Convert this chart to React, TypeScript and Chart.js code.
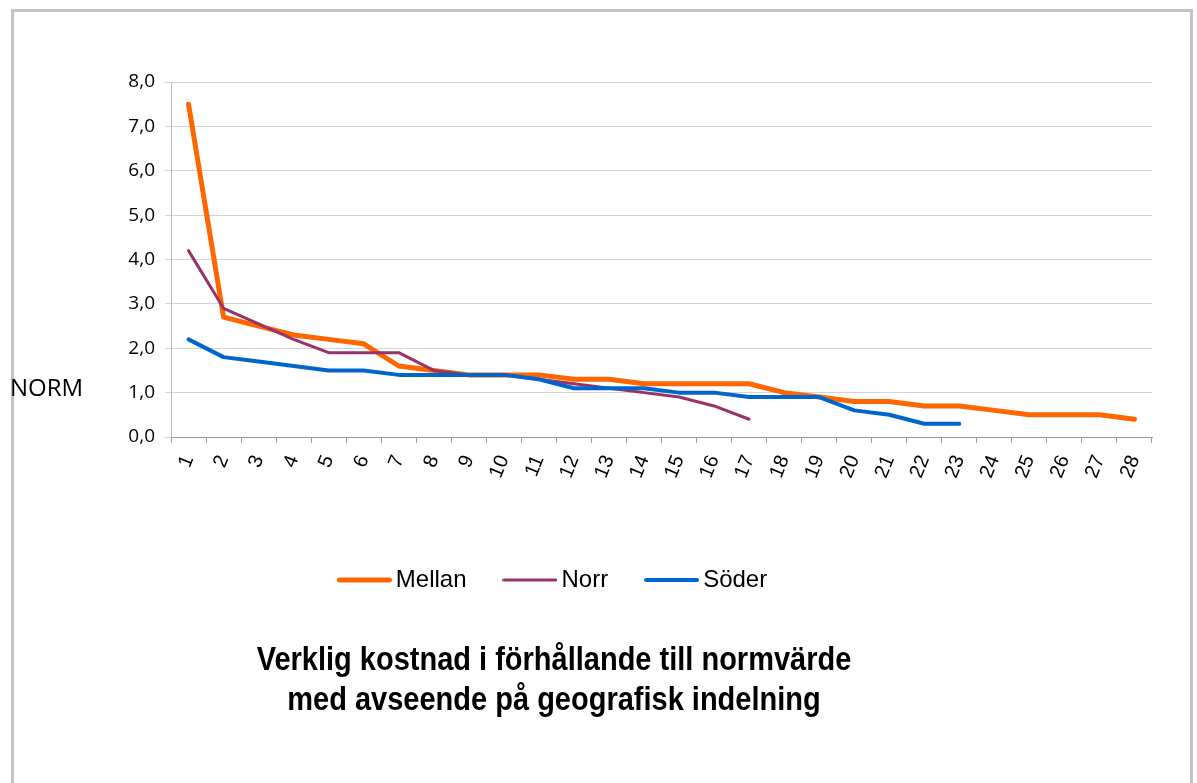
import React, { useEffect, useRef } from 'react';
import { Chart, registerables } from 'chart.js';

Chart.register(...registerables);

const categories = [
  '1', '2', '3', '4', '5', '6', '7', '8', '9', '10', '11', '12', '13', '14',
  '15', '16', '17', '18', '19', '20', '21', '22', '23', '24', '25', '26', '27', '28',
];

const mellan = [
  7.5, 2.7, 2.5, 2.3, 2.2, 2.1, 1.6, 1.5, 1.4, 1.4, 1.4, 1.3, 1.3, 1.2,
  1.2, 1.2, 1.2, 1.0, 0.9, 0.8, 0.8, 0.7, 0.7, 0.6, 0.5, 0.5, 0.5, 0.4,
];

const norr = [
  4.2, 2.9, 2.55, 2.2, 1.9, 1.9, 1.9, 1.5, 1.4, 1.4, 1.3, 1.2, 1.1, 1.0, 0.9, 0.7, 0.4,
];

const soder = [
  2.2, 1.8, 1.7, 1.6, 1.5, 1.5, 1.4, 1.4, 1.4, 1.4, 1.3, 1.1, 1.1, 1.1, 1.0, 1.0,
  0.9, 0.9, 0.9, 0.6, 0.5, 0.3, 0.3,
];

const seriesNames = ['Mellan', 'Norr', 'Söder'];
const yAxisTitle = 'NORM';
const titleLines = [
  'Verklig kostnad i förhållande till normvärde',
  'med avseende på geografisk indelning',
];

function legendLine(color: string, width: number) {
  const c = document.createElement('canvas');
  c.width = 55;
  c.height = 10;
  const g = c.getContext('2d')!;
  g.strokeStyle = color;
  g.lineWidth = width;
  g.lineCap = 'round';
  g.beginPath();
  g.moveTo(width / 2, 5);
  g.lineTo(55 - width / 2, 5);
  g.stroke();
  return c;
}

export default function App() {
  const ref = useRef<HTMLCanvasElement | null>(null);

  useEffect(() => {
    if (!ref.current) return;

    const textPlugin = {
      id: 'extraText',
      afterLayout(chart: any) {
        const lg = chart.legend;
        if (lg) {
          lg.left -= 20;
          lg.right -= 20;
        }
      },
      afterDraw(chart: any) {
        const ctx = chart.ctx;
        ctx.save();
        ctx.fillStyle = '#000';
        ctx.textBaseline = 'alphabetic';
        ctx.textAlign = 'left';
        ctx.font = '24px "Open Sans"';
        ctx.fillText(yAxisTitle, 10, 396);
        ctx.textAlign = 'center';
        ctx.font = 'bold 29px "Liberation Sans"';
        const baselines = [670, 710];
        titleLines.forEach((line, i) => {
          ctx.save();
          ctx.translate(554, baselines[i]);
          ctx.scale(1, 1.14);
          ctx.fillText(line, 0, 0);
          ctx.restore();
        });
        ctx.restore();
      },
    };

    const chart = new Chart(ref.current, {
      type: 'line',
      data: {
        labels: categories,
        datasets: [
          {
            label: seriesNames[0],
            data: mellan,
            borderColor: '#FF6600',
            backgroundColor: '#FF6600',
            borderWidth: 5,
            pointRadius: 0,
            pointStyle: legendLine('#FF6600', 5) as any,
            borderCapStyle: 'round',
            borderJoinStyle: 'round',
            tension: 0,
            order: 3,
          },
          {
            label: seriesNames[1],
            data: norr,
            borderColor: '#993366',
            backgroundColor: '#993366',
            borderWidth: 3,
            pointRadius: 0,
            pointStyle: legendLine('#993366', 3) as any,
            borderCapStyle: 'round',
            borderJoinStyle: 'round',
            tension: 0,
            order: 2,
          },
          {
            label: seriesNames[2],
            data: soder,
            borderColor: '#0066CC',
            backgroundColor: '#0066CC',
            borderWidth: 4,
            pointRadius: 0,
            pointStyle: legendLine('#0066CC', 4) as any,
            borderCapStyle: 'round',
            borderJoinStyle: 'round',
            tension: 0,
            order: 1,
          },
        ],
      },
      options: {
        responsive: false,
        animation: false,
        events: [],
        layout: { padding: { top: 82, left: 0, right: 45, bottom: 181 } },
        plugins: {
          tooltip: { enabled: false },
          title: { display: false },
          legend: {
            display: true,
            position: 'bottom',
            labels: {
              usePointStyle: true,
              pointStyleWidth: 39,
              padding: 44,
              color: '#000',
              font: { family: '"Liberation Sans", Arial, sans-serif', size: 24 },
              sort: (a: any, b: any) => a.datasetIndex - b.datasetIndex,
            },
          },
        },
        scales: {
          x: {
            type: 'category',
            offset: true,
            afterFit: (scale: any) => {
              scale.height = 87;
            },
            grid: {
              offset: true,
              drawOnChartArea: false,
              drawTicks: true,
              tickLength: 6,
              color: '#9a9a9a',
            },
            border: { display: true, color: '#9a9a9a', width: 1 },
            ticks: {
              autoSkip: false,
              maxRotation: 68,
              minRotation: 68,
              padding: 9,
              color: '#000',
              font: { family: '"Liberation Sans", Arial, sans-serif', size: 20 },
            },
          },
          y: {
            min: 0,
            max: 8,
            afterFit: (scale: any) => {
              scale.width = 171;
            },
            grid: {
              color: '#d4d4d4',
              drawTicks: true,
              tickLength: 6,
            },
            border: { display: true, color: '#bdbdbd', width: 1 },
            ticks: {
              stepSize: 1,
              padding: 10,
              color: '#000',
              font: { family: '"Open Sans", sans-serif', size: 19 },
              callback: (v: any) => Number(v).toFixed(1).replace('.', ','),
            },
          },
        },
      },
      plugins: [textPlugin],
    });

    return () => chart.destroy();
  }, []);

  return (
    <div
      style={{
        position: 'fixed',
        left: 0,
        top: 0,
        width: 1197,
        height: 783,
        overflow: 'hidden',
        background: '#fff',
      }}
    >
      <div
        style={{
          position: 'absolute',
          left: 11,
          top: 9,
          width: 1176,
          height: 800,
          borderLeft: '3px solid #c3c3c3',
          borderTop: '3px solid #c3c3c3',
          borderRight: '3px solid #c3c3c3',
        }}
      />
      <canvas
        ref={ref}
        width={1197}
        height={783}
        style={{ position: 'absolute', left: 0, top: 0 }}
      />
    </div>
  );
}
